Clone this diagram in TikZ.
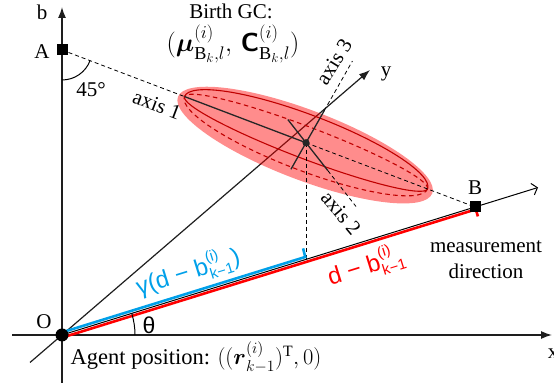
\RequirePackage{fix-cm}
\documentclass[tikz,border=0pt]{standalone}
\usepackage{amsmath}
\usepackage{fontspec}
\setmainfont{Liberation Serif}
\newfontfamily\lsans{Liberation Sans}
\usetikzlibrary{arrows.meta,calc}
\definecolor{ellline}{RGB}{192,0,0}
\definecolor{gblue}{RGB}{0,160,233}
\definecolor{gred}{RGB}{255,0,0}
\definecolor{axisgray}{RGB}{30,30,30}
\newcommand\mysupsub[2]{$^{\mbox{\lsans\fontsize{15}{17}\selectfont #1}}_{\mbox{\lsans\fontsize{15}{17}\selectfont #2}}$}
\tikzset{
  every node/.style={font=\fontsize{21}{26}\selectfont, inner sep=0pt, text=black},
  axisline/.style={axisgray, line width=1.4pt, -{Latex[length=11pt,width=8pt]}},
  dashline/.style={black, line width=0.8pt, dash pattern=on 4pt off 3pt},
  ellcurve/.style={ellline, line width=1.1pt},
  ellcurvedash/.style={ellline, line width=1.1pt, dash pattern=on 4.5pt off 3.5pt},
  axseg/.style={black!85, line width=1.3pt},
  blueline/.style={gblue, line width=2.6pt},
  redline/.style={gred, line width=2.6pt},
  sq/.style={fill=black, minimum size=11pt, inner sep=0pt},
  sanslab/.style={font=\lsans\fontsize{24}{28}\selectfont},
}
\begin{document}
\begin{tikzpicture}[x=1pt,y=1pt]
\useasboundingbox (0,0) rectangle (554,387);
% key coordinates
\coordinate (O) at (62,52);
\coordinate (A) at (62,337);
\coordinate (B) at (475,180);
\coordinate (Mend) at (538,199.5);
\coordinate (xs) at (12,52);
\coordinate (xe) at (552,52);
\coordinate (bs) at (62,4);
\coordinate (be) at (62,380);
\coordinate (ys) at (30,24.5);
\coordinate (ye) at (370,317);
\coordinate (C) at ($(A)!0.5908!(B)$);
\coordinate (F) at ($(O)!0.5908!(B)$);
\coordinate (L) at ($(C)!130pt!(A)$);
\coordinate (R) at ($(C)!130pt!(B)$);
\coordinate (a3s) at ($(C)+(240.4:30.5)$);
\coordinate (a3e) at ($(C)+(60.4:36.6)$);
\coordinate (a3d) at ($(C)+(60.4:94)$);
\coordinate (a2s) at ($(C)+(128.1:29.5)$);
\coordinate (a2e) at ($(C)+(-51.9:35.4)$);
\coordinate (a2d) at ($(C)+(-51.9:81)$);
% axes
\draw[axisline] (xs) -- (xe);
\draw[axisline] (bs) -- (be);
\draw[axisline, line width=1.2pt] (ys) -- (ye);
% ellipsoid fill (semi-transparent)
\begin{scope}[shift={(C)}, rotate=-20.81]
  \fill[red, fill opacity=0.45] (0,-2.5) ellipse [x radius=136, y radius=35];
  \draw[ellcurve] (130,0) arc[start angle=0, end angle=180, x radius=130, y radius=28];
  \draw[ellcurvedash] (130,0) arc[start angle=0, end angle=-180, x radius=130, y radius=28];
  \draw[ellcurvedash] (130,0) arc[start angle=0, end angle=180, x radius=130, y radius=16];
  \draw[ellcurve] (130,0) arc[start angle=0, end angle=-180, x radius=130, y radius=16];
\end{scope}
% axis 1 through A and B
\draw[dashline] (A) -- (L);
\draw[black!85, line width=1.3pt] (L) -- (C);
\draw[dashline] (C) -- (B);
% axes 2 and 3
\draw[axseg] (a3s) -- (a3e);
\draw[dashline] (a3e) -- (a3d);
\draw[axseg] (a2s) -- (a2e);
\draw[dashline] (a2e) -- (a2d);
% projection
\draw[dashline] (C) -- (F);
\fill[black!85] (C) circle (3.6);
% measurement direction
\draw[blueline] ($(O)+(-0.74,2.39)$) -- ($(F)+(-0.74,2.39)$) -- ++(-2.2,8.6);
\draw[redline] ($(O)+(0.74,-2.39)$) -- ($(B)+(0.74,-2.39)$) -- ++(2.2,-7);
\draw[black, line width=1pt, -{Straight Barb[length=5pt,width=12pt]}] (O) -- (Mend);
% angles
\draw[black, line width=1pt] ($(O)+(73,0)$) arc[start angle=0, end angle=17.22, radius=73];
\draw[black, line width=1pt] ($(A)+(0,-30)$) arc[start angle=-90, end angle=-20.81, radius=30];
% points
\node[sq] (An) at (A) {};
\node[sq] (Bn) at (B) {};
\fill[black] (O) circle (6.5);
% labels
\node (lb) at (42,375) {b};
\node (lA) at (42,335) {A};
\node (l45) at (91,297) {45°};
\node[rotate=-20.8] (lax1) at (157,282) {axis 1};
\node[rotate=58] (lax3) at (334,325) {axis 3};
\node[rotate=-50] (lax2) at (341,174) {axis 2};
\node (ly) at (386,313) {y};
\node[anchor=base] (lbirth) at (231,368.7) {Birth GC:};
\node[font=\fontsize{26}{30}\selectfont] (lgc) at (233,343) {$(\boldsymbol{\mu}^{(i)}_{\mathrm{B}_k,l},\,\mbox{\sffamily\bfseries C}^{(i)}_{\mathrm{B}_k,l})$};
\node (lB) at (475,199) {B};
\node[align=center] (lmeas) at (486,127) {measurement\\direction};
\node (lO) at (44,65) {O};
\node[font=\lsans\fontsize{23}{26}\selectfont] (lth) at (149,62) {θ};
\node[font=\fontsize{22.5}{26}\selectfont] (lagent) at (196,30) {Agent position: $((\boldsymbol{r}^{(i)}_{k-1})^{\mathrm{T}},0)$};
\node (lx) at (553,33) {x};
\node[sanslab, text=gblue, rotate=17.2] (lblue) at (188,115) {γ(d − b\mysupsub{(i)}{k−1})};
\node[sanslab, text=gred, rotate=17.2] (lred) at (366,121) {d − b\mysupsub{(i)}{k−1}};
\end{tikzpicture}
\end{document}
